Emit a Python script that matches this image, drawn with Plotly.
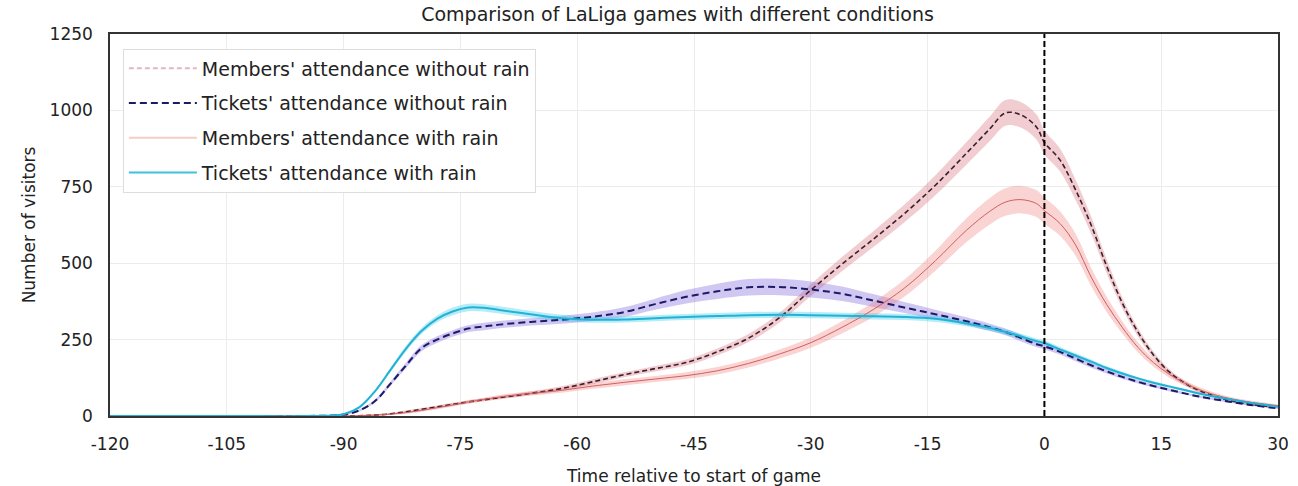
import plotly.graph_objects as go

# Minutes relative to kick-off
minutes = [-120, -105, -95, -90, -88, -86, -84, -82, -80, -78, -76, -74, -72, -70,
           -66, -62, -58, -54, -50, -46, -42, -38, -34, -30, -26, -22, -18, -14,
           -10, -7, -5, -3, -1, 0, 2, 4, 6, 8, 10, 12, 14, 16, 18, 20, 23, 26, 30]

# Mean visitors per minute and half-width of the confidence band
members_no_rain = [0, 0, 0, 0, 1, 3, 7, 14, 22, 30, 38, 46, 53, 60, 74, 90, 112, 135, 155, 175,
                   210, 255, 322, 412, 497, 578, 662, 755, 860, 940, 992, 985, 945, 895, 838, 740,
                   625, 490, 370, 275, 200, 145, 108, 82, 56, 40, 28]
members_no_rain_ci = [0, 0, 0, 1, 2, 3, 3, 4, 4, 4, 5, 5, 5, 5, 6, 7, 8, 8, 9, 10, 11, 13, 16, 19,
                      23, 26, 29, 33, 37, 40, 42, 42, 41, 39, 37, 33, 28, 23, 18, 14, 11, 9, 7, 6, 5, 4, 3]

tickets_no_rain = [0, 0, 0, 5, 18, 48, 105, 165, 222, 250, 270, 286, 293, 299, 308, 315, 325, 340,
                   366, 390, 408, 421, 422, 414, 400, 378, 355, 333, 310, 290, 275, 255, 235, 228,
                   210, 188, 166, 146, 128, 112, 98, 86, 74, 63, 50, 38, 25]
tickets_no_rain_ci = [0, 0, 0, 1, 3, 5, 7, 9, 10, 11, 11, 11, 12, 12, 12, 13, 14, 16, 18, 22, 25, 27,
                      27, 26, 24, 21, 18, 15, 13, 12, 11, 11, 10, 10, 9, 9, 8, 7, 6, 6, 5, 5, 4, 4, 3, 3, 2]

members_rain = [0, 0, 0, 0, 1, 3, 6, 11, 18, 27, 36, 46, 54, 62, 74, 84, 98, 110, 121, 132, 148,
                172, 203, 240, 290, 348, 418, 508, 608, 670, 700, 708, 695, 672, 630, 560, 455,
                365, 290, 225, 175, 137, 108, 85, 62, 47, 34]
members_rain_ci = [0, 0, 0, 1, 2, 3, 3, 4, 4, 5, 5, 6, 6, 7, 7, 8, 9, 10, 10, 11, 12, 13, 15, 17,
                   20, 24, 28, 33, 39, 43, 45, 45, 44, 43, 40, 36, 30, 25, 20, 16, 13, 11, 9, 8, 6, 5, 4]

tickets_rain = [0, 0, 0, 6, 28, 80, 150, 220, 278, 318, 342, 355, 354, 347, 333, 320, 315, 316,
                320, 324, 327, 330, 331, 330, 328, 326, 324, 318, 303, 288, 275, 260, 245, 239,
                218, 198, 178, 157, 139, 123, 109, 97, 85, 73, 58, 45, 30]
tickets_rain_ci = [0, 0, 0, 1, 3, 5, 7, 9, 10, 11, 12, 12, 12, 12, 11, 11, 10, 10, 10, 10, 10, 10,
                   10, 10, 10, 10, 10, 10, 9, 9, 9, 9, 8, 8, 8, 7, 7, 6, 6, 5, 5, 4, 4, 4, 3, 3, 2]

x_ticks = [-120, -105, -90, -75, -60, -45, -30, -15, 0, 15, 30]
y_ticks = [0, 250, 500, 750, 1000, 1250]

FONT = "DejaVu Sans, Liberation Sans, sans-serif"

series = [
    # name, mean, ci, band colour, line colour, dash, width, legend colour
    ("Members' attendance without rain", members_no_rain, members_no_rain_ci,
     "rgba(214,110,120,0.35)", "#3d1f2c", "5px,3px", 1.6, "rgba(205,140,150,0.6)"),
    ("Tickets' attendance without rain", tickets_no_rain, tickets_no_rain_ci,
     "rgba(120,95,220,0.35)", "#1b1b66", "7px,4px", 2.0, "#1b1b66"),
    ("Members' attendance with rain", members_rain, members_rain_ci,
     "rgba(240,130,130,0.35)", "#d0605e", None, 1.0, "rgba(240,170,160,0.6)"),
    ("Tickets' attendance with rain", tickets_rain, tickets_rain_ci,
     "rgba(40,200,235,0.35)", "#22b2d6", None, 2.0, "#3fc0de"),
]

fig = go.Figure()

for name, mean, ci, band, color, dash, width, _ in series:
    upper = [m + c for m, c in zip(mean, ci)]
    lower = [max(m - c, 0) for m, c in zip(mean, ci)]
    fig.add_trace(go.Scatter(x=minutes, y=upper, mode="lines", line=dict(width=0, shape="spline"),
                             showlegend=False, hoverinfo="skip"))
    fig.add_trace(go.Scatter(x=minutes, y=lower, mode="lines", line=dict(width=0, shape="spline"),
                             fill="tonexty", fillcolor=band, showlegend=False, hoverinfo="skip"))

for name, mean, ci, band, color, dash, width, _ in series:
    fig.add_trace(go.Scatter(x=minutes, y=mean, mode="lines", name=name,
                             line=dict(color=color, width=width, dash=dash, shape="spline"),
                             showlegend=False))

# Legend entries
for i, (name, mean, ci, band, color, dash, width, legend_color) in enumerate(series):
    fig.add_trace(go.Scatter(x=[None], y=[None], mode="lines", name=name, legendgroup=f"g{i}",
                             line=dict(color=legend_color, width=2, dash=dash)))

fig.add_vline(x=0, line=dict(color="black", width=2, dash="6px,3px"))

fig.update_layout(
    width=1298, height=486,
    margin=dict(l=110, r=20, t=34, b=70, autoexpand=False),
    paper_bgcolor="white", plot_bgcolor="white",
    font=dict(family=FONT, size=17, color="#222"),
    title=dict(text="Comparison of LaLiga games with different conditions", x=0.522, xanchor="center",
               y=0.985, yanchor="top", font=dict(size=19, color="#222")),
    legend=dict(x=0.011, y=0.962, xanchor="left", yanchor="top", bgcolor="white",
                bordercolor="#dddddd", borderwidth=1, font=dict(size=19, color="#222"),
                tracegroupgap=7, itemwidth=68),
    showlegend=True,
)

fig.update_xaxes(range=[-120, 30], tickvals=x_ticks, ticktext=[str(v) for v in x_ticks],
                 showgrid=True, gridcolor="#ececec", zeroline=False, automargin=False,
                 showline=True, linecolor="#333", linewidth=1.5, mirror=True,
                 ticks="", tickfont=dict(size=17), ticklabelstandoff=12,
                 title=dict(text="Time relative to start of game", font=dict(size=17), standoff=22))
fig.update_yaxes(range=[0, 1250], tickvals=y_ticks, ticktext=[str(v) for v in y_ticks],
                 showgrid=True, gridcolor="#ececec", zeroline=False, automargin=False,
                 showline=True, linecolor="#333", linewidth=1.5, mirror=True,
                 ticks="", tickfont=dict(size=17), ticklabelstandoff=12,
                 title=dict(text="Number of visitors", font=dict(size=17), standoff=10))

fig.write_html("out.html")
